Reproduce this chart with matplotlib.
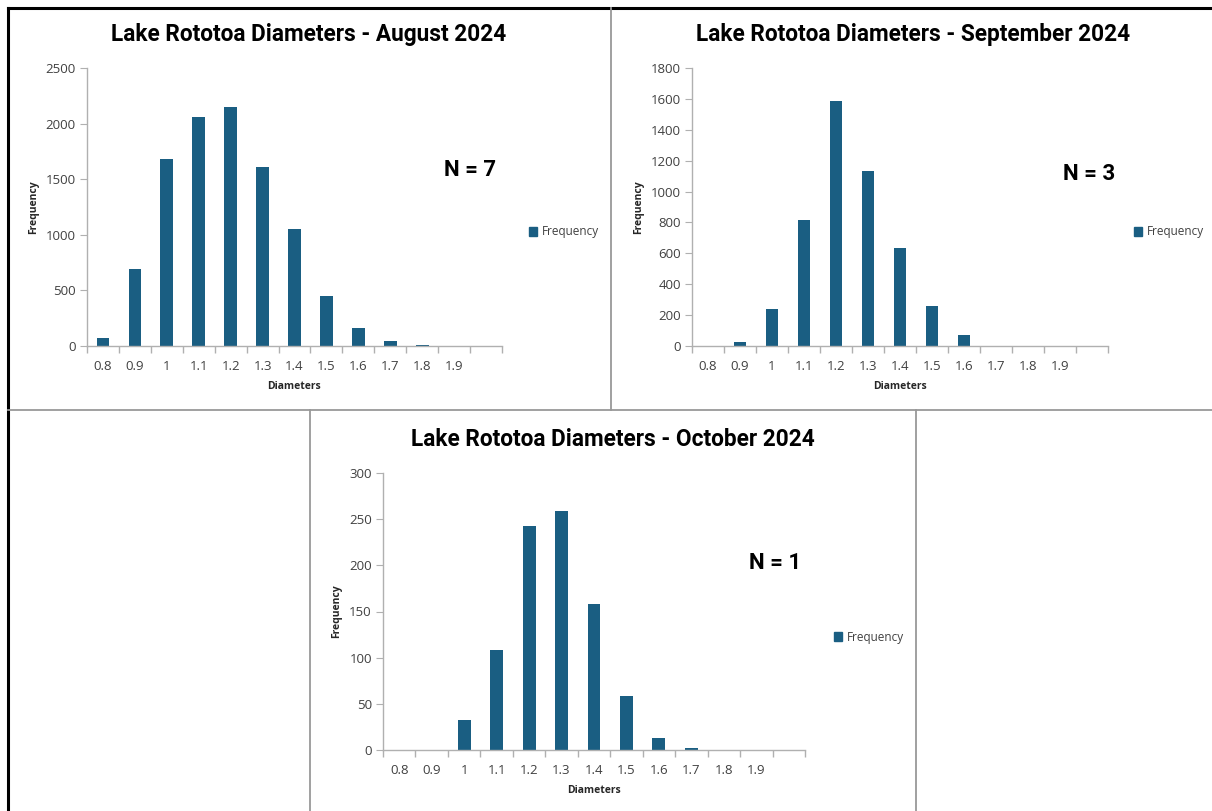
import matplotlib
matplotlib.use("Agg")
import matplotlib.pyplot as plt
from matplotlib.lines import Line2D

categories = ["0.8", "0.9", "1", "1.1", "1.2", "1.3", "1.4", "1.5", "1.6", "1.7", "1.8", "1.9", ""]
august = [75, 692, 1680, 2057, 2150, 1611, 1048, 452, 159, 48, 12, 0, 0]
september = [0, 24, 241, 815, 1584, 1130, 632, 257, 73, 0, 0, 0, 0]
october = [0, 0, 33, 108, 243, 259, 158, 58, 13, 2, 0, 0, 0]

W, H = 1212, 811
BAR = "#1a5e82"
TICK = "#404040"
AXIS = "#b0b0b0"
TITLE_FONT = ["Roboto", "DejaVu Sans"]
BODY_FONT = ["Open Sans", "DejaVu Sans"]

fig = plt.figure(figsize=(W / 100, H / 100), dpi=100)


def fx(x):
    return x / W


def fy(y):
    return 1 - y / H


def line(x0, y0, x1, y1, color, lw):
    fig.add_artist(Line2D([fx(x0), fx(x1)], [fy(y0), fy(y1)], color=color, lw=lw,
                          transform=fig.transFigure))


def panel(px, values, ymax, ystep, title, tcx, tcy, ntext, nx, ny, lx, ly):
    x0, y0, x1, y1 = px
    ax = fig.add_axes([fx(x0), fy(y1), (x1 - x0) / W, (y1 - y0) / H])
    pos = list(range(len(categories)))
    ax.bar(pos, values, width=0.4, color=BAR, label="Frequency")
    ax.set_xlim(-0.5, len(categories) - 0.5)
    ax.set_ylim(0, ymax)
    ax.set_yticks(range(0, ymax + 1, ystep))
    ax.set_xticks(pos)
    ax.set_xticklabels(categories)
    ax.set_xticks([p - 0.5 for p in pos] + [len(categories) - 0.5], minor=True)
    ax.tick_params(axis="x", which="major", length=0, pad=10, labelsize=9.5, labelcolor=TICK)
    ax.tick_params(axis="x", which="minor", length=5, color=AXIS, width=1)
    ax.tick_params(axis="y", length=5, color=AXIS, labelsize=9.5, labelcolor=TICK, pad=3)
    for lab in ax.get_xticklabels() + ax.get_yticklabels():
        lab.set_family(BODY_FONT)
    for s in ["top", "right"]:
        ax.spines[s].set_visible(False)
    for s in ["left", "bottom"]:
        ax.spines[s].set_color(AXIS)
        ax.spines[s].set_linewidth(1)
    ax.set_xlabel("Diameters", fontsize=7.5, fontweight="bold", color="#262626",
                  family=BODY_FONT, labelpad=6)
    ax.set_ylabel("Frequency", fontsize=7.5, fontweight="bold", color="#262626",
                  family=BODY_FONT, labelpad=5)
    fig.text(fx(tcx), fy(tcy), title, ha="center", va="center", fontsize=16.3,
             fontweight="bold", family=TITLE_FONT)
    fig.text(fx(nx), fy(ny), ntext, ha="center", va="center", fontsize=16,
             fontweight="bold", family=TITLE_FONT)
    fig.legend(handles=[plt.Rectangle((0, 0), 1, 1, color=BAR)], labels=["Frequency"],
               loc="center left", bbox_to_anchor=(fx(lx), fy(ly)), frameon=False,
               handlelength=0.7, handleheight=0.7, handletextpad=0.4,
               prop={"size": 8.5, "family": BODY_FONT}, labelcolor=TICK)
    return ax


panel((87, 68, 502, 346), august, 2500, 500, "Lake Rototoa Diameters - August 2024",
      309, 34, "N = 7", 470, 170, 518, 232)
panel((692, 68, 1108, 346), september, 1800, 200, "Lake Rototoa Diameters - September 2024",
      913, 34, "N = 3", 1089, 174, 1123, 232)
panel((383, 473, 805, 750), october, 300, 50, "Lake Rototoa Diameters - October 2024",
      613, 439, "N = 1", 775, 563, 823, 637)

# panel borders
line(8, 8, 1212, 8, "black", 2.2)
line(8, 8, 8, 811, "black", 2.2)
line(611, 8, 611, 410, "#999999", 1.3)
line(8, 410, 1212, 410, "#999999", 1.3)
line(310, 410, 310, 811, "#999999", 1.3)
line(916, 410, 916, 811, "#999999", 1.3)

fig.savefig("out.png", dpi=100)
